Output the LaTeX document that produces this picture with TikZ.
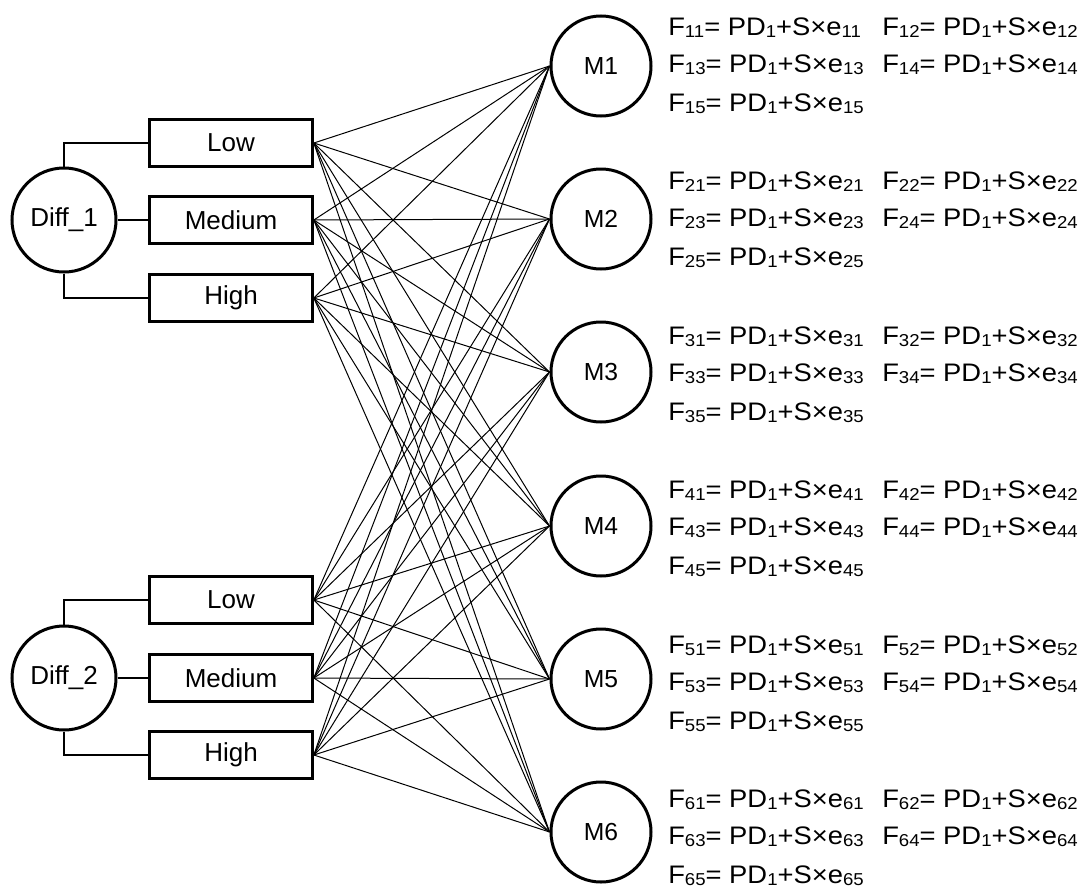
\documentclass[tikz,border=0pt]{standalone}
\usepackage{fontspec}
\setmainfont{Liberation Sans}
\newfontfamily\formfont[FakeStretch=1.08]{Liberation Sans}
\usetikzlibrary{positioning,calc}
\newcommand{\lo}[1]{\raisebox{-0.15ex}{\scalebox{0.68}{#1}}}
\newcommand{\feq}[2]{F\lo{#1#2}= PD\lo{1}+S×e\lo{#1#2}}
\tikzset{
  level/.style={draw, line width=2.25pt, minimum width=122pt, minimum height=35pt, inner sep=0pt, font=\fontsize{19.5}{21}\selectfont},
  factor/.style={draw, circle, line width=2.25pt, minimum size=78pt, inner sep=0pt, font=\fontsize{19.5}{21}\selectfont},
  machine/.style={draw, circle, line width=2.25pt, minimum size=75pt, inner sep=0pt, font=\fontsize{18.5}{20}\selectfont},
  tie/.style={line width=1.5pt},
  link/.style={line width=0.75pt},
  formula/.style={anchor=base west, inner sep=0pt, font=\formfont\fontsize{19}{21}\selectfont}
}
\begin{document}
\begin{tikzpicture}[x=0.75pt,y=-0.75pt]
    \useasboundingbox (0,0) rectangle (1078,889);

    % Difficulty factors
    \node[factor] (d1) at (64,220) {Diff\_1};
    \node[factor] (d2) at (64,678) {Diff\_2};

    % Levels
    \node[level] (low1) at (231,143) {Low};
    \node[level] (med1) at (231,220) {Medium};
    \node[level] (high1) at (231,298) {High};
    \node[level] (low2) at (231,600) {Low};
    \node[level] (med2) at (231,678) {Medium};
    \node[level] (high2) at (231,755) {High};

    % Factor to level
    \draw[tie] (d1.north) |- (low1.west);
    \draw[tie] (d1.east) -- (med1.west);
    \draw[tie] (d1.south) |- (high1.west);
    \draw[tie] (d2.north) |- (low2.west);
    \draw[tie] (d2.east) -- (med2.west);
    \draw[tie] (d2.south) |- (high2.west);

    % Machines
    \foreach \i/\y in {1/66,2/219,3/372,4/526,5/679,6/832}
        \node[machine] (m\i) at (601,\y) {M\i};

    % Every level to every machine
    \foreach \s in {low1,med1,high1,low2,med2,high2}
        \foreach \i in {1,...,6}
            \draw[link] (\s.east) -- (m\i.west);

    % Formulas
    \foreach \i/\y in {1/35,2/189,3/344,4/498,5/653,6/807} {
        \node[formula] (f\i1) at (668,\y) {\feq{\i}{1}};
        \node[formula] (f\i2) at (882,\y) {\feq{\i}{2}};
        \node[formula] (f\i3) at (668,\y+37) {\feq{\i}{3}};
        \node[formula] (f\i4) at (882,\y+37) {\feq{\i}{4}};
        \node[formula] (f\i5) at (668,\y+76) {\feq{\i}{5}};
    }
\end{tikzpicture}
\end{document}
